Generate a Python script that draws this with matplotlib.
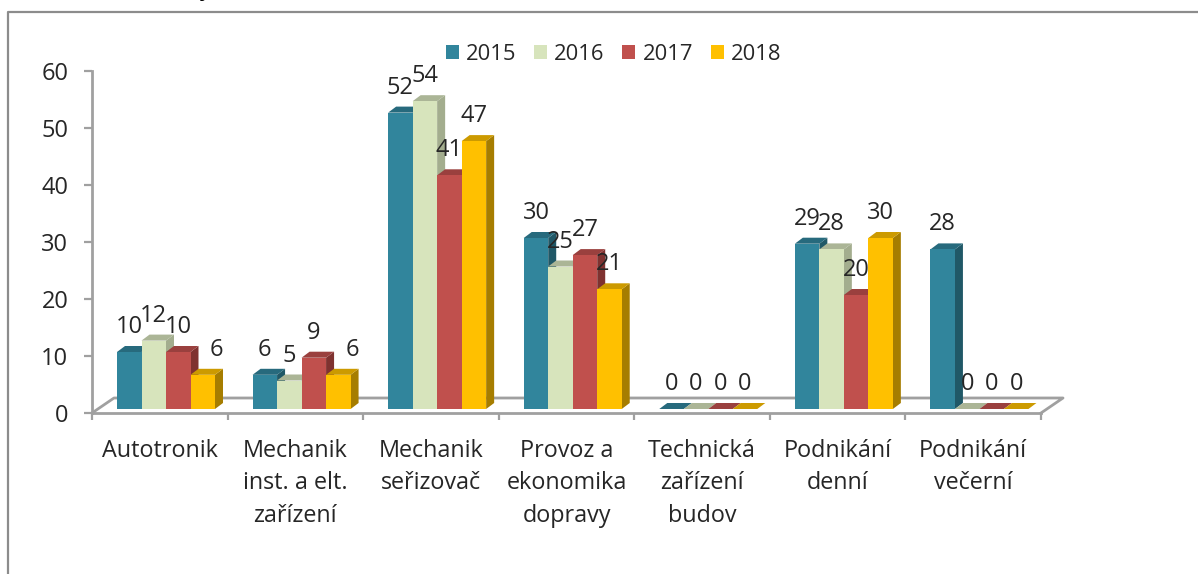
"""Czech 3D-look clustered column chart, pupil counts per study programme."""
import matplotlib
matplotlib.use("Agg")
import matplotlib.pyplot as plt
from matplotlib.patches import Rectangle
from matplotlib.lines import Line2D
from matplotlib.transforms import Affine2D

plt.rcParams['font.family'] = ['Open Sans', 'DejaVu Sans']

categories = ["Autotronik", "Mechanik\ninst. a elt.\nzařízení", "Mechanik\nseřizovač",
              "Provoz a\nekonomika\ndopravy", "Technická\nzařízení\nbudov",
              "Podnikání\ndenní", "Podnikání\nvečerní"]
years = ["2015", "2016", "2017", "2018"]
v2015 = [10, 6, 52, 30, 0, 29, 28]
v2016 = [12, 5, 54, 25, 0, 28, 0]
v2017 = [10, 9, 41, 27, 0, 20, 0]
v2018 = [6, 6, 47, 21, 0, 30, 0]
series = [v2015, v2016, v2017, v2018]

FRONT = ["#31859C", "#D7E4BC", "#C0504D", "#FFC000"]
TOP = ["#276A7D", "#ABB596", "#9A403E", "#CC9A00"]
SIDE = ["#205867", "#A3AD8E", "#7F3230", "#A67D00"]
GREY = "#A0A0A0"
TXT = "#262626"

W, H = 1198, 574
fig = plt.figure(figsize=(W / 100, H / 100), dpi=100, facecolor="white")

# axes box in pixels: x 92..1041, y 413 (zero) .. 71 (60)
ax = fig.add_axes([92 / W, 1 - 413 / H, (1041 - 92) / W, (413 - 71) / H])
ax.set_xlim(0, 7)
ax.set_ylim(0, 60)
ax.patch.set_visible(False)
for s in ["top", "right"]:
    ax.spines[s].set_visible(False)
for s in ["left", "bottom"]:
    ax.spines[s].set_color(GREY)
    ax.spines[s].set_linewidth(2.0)

ax.set_yticks(range(0, 61, 10))
ax.set_xticks(range(0, 8))
ax.set_xticklabels([])
ax.tick_params(axis="y", direction="out", length=5.5, width=1.6, color=GREY,
               labelsize=17, labelcolor=TXT, pad=11.5)
ax.tick_params(axis="x", direction="out", length=5, width=1.6, color=GREY)

for i, name in enumerate(categories):
    ax.text(i + 0.5, -4.5, name, ha="center", va="top", fontsize=16.8, color=TXT,
            linespacing=1.48, clip_on=False)

px_x = 7 / (1041 - 92)
px_y = 60 / (413 - 71)

# floor, drawn behind the columns
fx, fy = 22 * px_x, 15 * px_y
ax.plot([0, fx, 7 + fx, 7], [0, fy, fy, 0], color=GREY, lw=2.0, clip_on=False, zorder=1)

lift = Affine2D().translate(0, 4)
bar_w = 24.5 * px_x
dx, dy = 8 * px_x, 6 * px_y
start = 25 * px_x

for k, vals in enumerate(series):
    for i, v in enumerate(vals):
        x0 = i + start + k * bar_w
        x1 = x0 + bar_w
        tr = ax.transData + lift
        z = 2 + k + i * 5
        ax.fill([x1, x1 + dx, x1 + dx, x1], [0, dy, v + dy, v], color=SIDE[k], lw=0,
                transform=tr, zorder=z, clip_on=False)
        ax.fill([x0, x0 + dx, x1 + dx, x1], [v, v + dy, v + dy, v], color=TOP[k], lw=0,
                transform=tr, zorder=z, clip_on=False)
        if v > 0:
            ax.bar(x0, v, bar_w, align="edge", color=FRONT[k], lw=0,
                   transform=tr, zorder=z + 0.5, clip_on=False)
        # the two short 2018 labels sit off to the right of their columns
        nudge = 14 if k == 3 and i < 2 else 0
        ax.annotate(str(v), xy=(x0 + bar_w / 2, v), xytext=(nudge, 17), textcoords="offset pixels",
                    ha="center", va="bottom", fontsize=17, color=TXT, zorder=50,
                    annotation_clip=False)

# legend
handles = [Rectangle((0, 0), 1, 1, fc=c, ec="none") for c in FRONT]
fig.legend(handles, years, loc="center", bbox_to_anchor=(613.5 / W, 1 - 54 / H), ncol=4,
           frameon=False, fontsize=15.8, handlelength=0.6, handleheight=0.6,
           handletextpad=0.32, columnspacing=0.8, labelcolor=TXT)

# outer chart frame: only top and left edges fall inside the crop
fig.add_artist(Line2D([8 / W, 8 / W, 1],
                      [0, 1 - 12 / H, 1 - 12 / H],
                      color="#8C8C8C", lw=1.6))

# descender of the cut-off heading above the frame
fig.text(206 / W, 1 + 5 / H, "y", ha="center", va="baseline", fontsize=17, color="black")

fig.savefig("out.png", dpi=100, facecolor="white")
